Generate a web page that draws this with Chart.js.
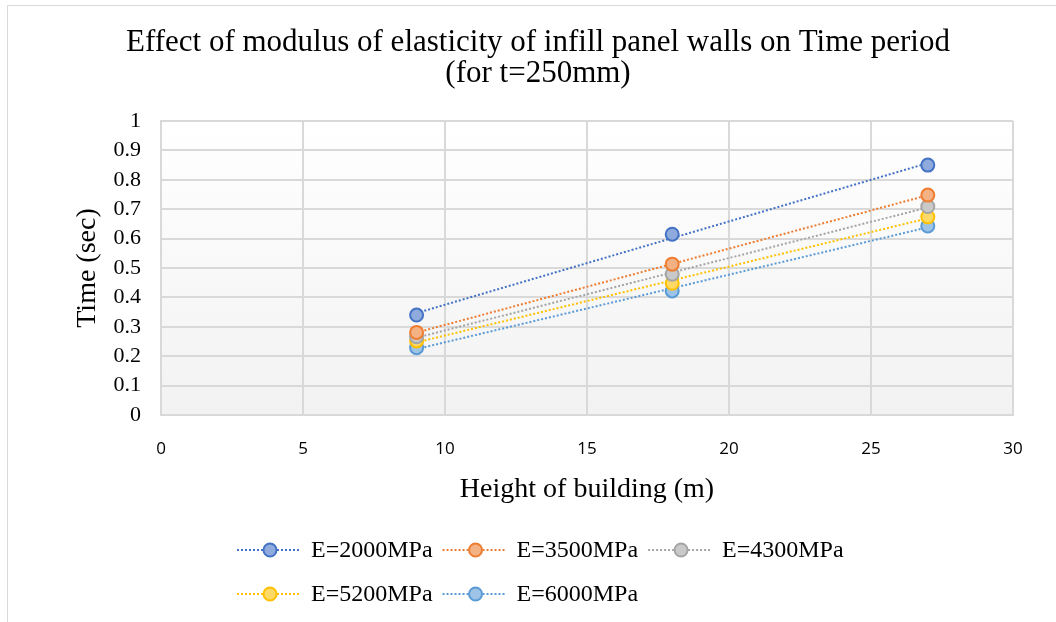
<!DOCTYPE html>
<html>
<head>
<meta charset="utf-8">
<title>Effect of modulus of elasticity of infill panel walls on Time period</title>
<script src="https://cdn.jsdelivr.net/npm/chart.js@4.4.1/dist/chart.umd.min.js"></script>
<style>
  body { margin: 0; background: #fff; }
  #wrap { position: relative; width: 1056px; height: 622px; overflow: hidden; }
  #frame { position: absolute; left: 7px; top: 5px; width: 1200px; height: 800px;
           border-left: 1px solid #d9d9d9; border-top: 1px solid #d9d9d9; pointer-events: none; }
</style>
</head>
<body>
<div id="wrap">
  <canvas id="myChart" width="1056" height="622"></canvas>
  <div id="frame"></div>
</div>
<script>
// data
const heights = [9, 18, 27];
const seriesNames = ['E=2000MPa', 'E=3500MPa', 'E=4300MPa', 'E=5200MPa', 'E=6000MPa'];
const e2000 = [0.34, 0.615, 0.85];
const e3500 = [0.281, 0.513, 0.748];
const e4300 = [0.266, 0.479, 0.709];
const e5200 = [0.252, 0.448, 0.674];
const e6000 = [0.229, 0.422, 0.643];
const xTicks = [0, 5, 10, 15, 20, 25, 30];
const yTicks = [0, 0.1, 0.2, 0.3, 0.4, 0.5, 0.6, 0.7, 0.8, 0.9, 1];

// styles
const lineColors = ['#4472c4', '#ed7d31', '#a5a5a5', '#ffc000', '#5b9bd5'];
const fillColors = ['#8faadc', '#f4b183', '#c9c9c9', '#ffd966', '#9dc3e6'];

const allSeries = [e2000, e3500, e4300, e5200, e6000];

// linear trendline from the points (like Excel)
function trend(xs, ys) {
  const n = xs.length;
  const mx = xs.reduce((a, b) => a + b, 0) / n;
  const my = ys.reduce((a, b) => a + b, 0) / n;
  let sxy = 0, sxx = 0;
  for (let i = 0; i < n; i++) {
    sxy += (xs[i] - mx) * (ys[i] - my);
    sxx += (xs[i] - mx) * (xs[i] - mx);
  }
  const slope = sxy / sxx;
  const x0 = Math.min(...xs), x1 = Math.max(...xs);
  return [{x: x0, y: my + slope * (x0 - mx)}, {x: x1, y: my + slope * (x1 - mx)}];
}

const datasets = [];
allSeries.forEach((ys, i) => {
  datasets.push({
    label: seriesNames[i] + ' trend',
    data: trend(heights, ys),
    showLine: true,
    borderColor: lineColors[i],
    borderWidth: 2,
    borderDash: [2, 2],
    pointRadius: 0,
    order: 2
  });
});
allSeries.forEach((ys, i) => {
  datasets.push({
    label: seriesNames[i],
    data: heights.map((h, k) => ({x: h, y: ys[k]})),
    showLine: false,
    backgroundColor: fillColors[i],
    borderColor: lineColors[i],
    borderWidth: 2,
    pointRadius: 6.5,
    order: 1
  });
});

// plot background gradient
const plotBg = {
  id: 'plotBg',
  beforeDraw(chart) {
    const {ctx, chartArea: a} = chart;
    const g = ctx.createLinearGradient(0, a.top, 0, a.bottom);
    g.addColorStop(0, '#ffffff');
    g.addColorStop(1, '#f2f2f2');
    ctx.save();
    ctx.fillStyle = g;
    ctx.fillRect(a.left, a.top, a.right - a.left, a.bottom - a.top);
    ctx.restore();
  }
};

// legend in two rows, left aligned like the original
const legendRows = {
  id: 'legendRows',
  afterDraw(chart) {
    const ctx = chart.ctx;
    const items = chart.data.datasets.filter(d => !d.label.endsWith('trend'));
    const rows = [[0, 1, 2], [3, 4]];
    const rowY = [550, 594];
    ctx.save();
    ctx.font = '24px "Liberation Serif"';
    ctx.textBaseline = 'middle';
    rows.forEach((row, r) => {
      let x = 237;
      const y = rowY[r];
      row.forEach(idx => {
        const d = items[idx];
        ctx.strokeStyle = d.borderColor;
        ctx.lineWidth = 2;
        ctx.setLineDash([2, 2]);
        ctx.beginPath();
        ctx.moveTo(x, y);
        ctx.lineTo(x + 64, y);
        ctx.stroke();
        ctx.setLineDash([]);
        ctx.beginPath();
        ctx.arc(x + 33, y, 6.5, 0, Math.PI * 2);
        ctx.fillStyle = d.backgroundColor;
        ctx.fill();
        ctx.stroke();
        ctx.fillStyle = '#000';
        ctx.fillText(d.label, x + 74, y + 1);
        x += 74 + ctx.measureText(d.label).width + 10;
      });
    });
    ctx.restore();
  }
};

const config = {
  type: 'scatter',
  data: { datasets },
  options: {
    responsive: false,
    devicePixelRatio: 1,
    animation: false,
    layout: { padding: { left: 63, right: 43, top: 0, bottom: 117 } },
    plugins: {
      legend: { display: false },
      tooltip: { enabled: false },
      title: {
        display: true,
        text: ['Effect of modulus of elasticity of infill panel walls on Time period', '(for t=250mm)'],
        color: '#000',
        font: { family: 'Liberation Serif', size: 31, weight: 'normal', lineHeight: 1.0 },
        padding: { top: 27, bottom: 32 }
      }
    },
    scales: {
      x: {
        type: 'linear',
        min: 0,
        max: 30,
        afterBuildTicks: s => { s.ticks = xTicks.map(v => ({value: v})); },
        afterFit: s => { s.height = 90; },
        grid: { color: '#d9d9d9', lineWidth: 2, drawTicks: false },
        border: { color: '#d9d9d9', width: 2 },
        ticks: { color: '#000', padding: 24, font: { family: 'Open Sans', size: 17 } },
        title: {
          display: true,
          text: 'Height of building (m)',
          color: '#000',
          font: { family: 'Liberation Serif', size: 28, lineHeight: 1.1 },
          padding: { top: 0, bottom: 0 }
        }
      },
      y: {
        type: 'linear',
        min: 0,
        max: 1,
        afterBuildTicks: s => { s.ticks = yTicks.map(v => ({value: v})); },
        afterFit: s => { s.width = 98; },
        grid: { color: '#d9d9d9', lineWidth: 2, drawTicks: false },
        border: { color: '#d9d9d9', width: 2 },
        ticks: {
          color: '#000', padding: 20, font: { family: 'Liberation Serif', size: 22 },
          callback: v => String(v)
        },
        title: {
          display: true,
          text: 'Time (sec)',
          color: '#000',
          font: { family: 'Liberation Serif', size: 28 },
          padding: { top: 8, bottom: 0 }
        }
      }
    }
  },
  plugins: [plotBg, legendRows]
};

// render init block
const myChart = new Chart(
  document.getElementById('myChart'),
  config
);
</script>
</body>
</html>
